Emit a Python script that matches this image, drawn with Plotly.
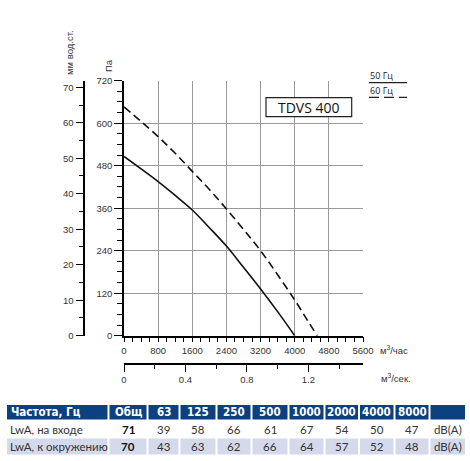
import plotly.graph_objects as go

W, H = 470, 461

# ---- data ----
q50 = [0, 400, 800, 1200, 1600, 2000, 2400, 2800, 3200, 3600, 4000]
p50 = [506, 471, 435, 396, 355, 305, 253, 193, 132, 68, 0]
q60 = [0, 400, 800, 1200, 1600, 2000, 2400, 2800, 3200, 3600, 4000, 4300, 4530]
p60 = [646, 605, 562, 515, 464, 413, 358, 300, 240, 172, 101, 43, 0]

model_name = "TDVS 400"
legend_labels = ["50 Гц", "60 Гц"]

tbl_header = ["Частота, Гц", "Общ", "63", "125", "250", "500", "1000", "2000", "4000", "8000", ""]
tbl_row_names = ["LwA, на входе", "LwA, к окружению"]
tbl_total = [71, 70]
tbl_inlet = [39, 58, 66, 61, 67, 54, 50, 47]
tbl_outlet = [43, 63, 62, 66, 64, 57, 52, 48]
tbl_unit = "dB(A)"

# table layout (pixels)
col_edges = [7, 108.5, 147.5, 179.5, 216.5, 251.5, 288.5, 324.5, 359, 394.5, 429.5, 466]
row_edges = [405, 419.5, 437.5, 454.5]


def px_x(px):
    return px / W


def px_y(py):
    return 1 - py / H


fig = go.Figure()

fig.add_trace(go.Scatter(x=q50, y=p50, mode="lines", line=dict(color="#111", width=1.6, shape="spline"),
                         showlegend=False, hoverinfo="skip"))
fig.add_trace(go.Scatter(x=q60, y=p60, mode="lines",
                         line=dict(color="#111", width=1.6, shape="spline", dash="8px,4.5px"),
                         showlegend=False, hoverinfo="skip"))
# invisible companions so the secondary unit axes are drawn
fig.add_trace(go.Scatter(x=[q / 3600 for q in q50], y=p50, xaxis="x2", yaxis="y", mode="lines",
                         line=dict(color="rgba(0,0,0,0)"), showlegend=False, hoverinfo="skip"))
fig.add_trace(go.Scatter(x=q50, y=[p / 9.80665 for p in p50], xaxis="x", yaxis="y2", mode="lines",
                         line=dict(color="rgba(0,0,0,0)"), showlegend=False, hoverinfo="skip"))

axis_font = dict(family="Liberation Sans, Arial", size=9.5, color="#333")

common = dict(automargin=False, zeroline=False, fixedrange=True, tickfont=axis_font,
              showline=True, linecolor="black", linewidth=1.5, tickcolor="black", tickwidth=1.2,
              ticks="outside")

fig.update_layout(
    template="none",
    width=W, height=H, autosize=False,
    margin=dict(l=0, r=0, t=0, b=0, pad=0, autoexpand=False),
    paper_bgcolor="white", plot_bgcolor="white",
    showlegend=False,
    xaxis=dict(domain=[px_x(124), px_x(363)], range=[0, 5600], dtick=800, tick0=0,
               showgrid=True, gridcolor="#9a9a9a", gridwidth=1.4, ticklen=5,
               minor=dict(dtick=200, ticks="outside", ticklen=5, tickcolor="black", tickwidth=1.2, showgrid=False),
               anchor="y", **common),
    yaxis=dict(domain=[px_y(335.7), px_y(80.7)], range=[0, 720], dtick=120, tick0=0,
               showgrid=True, gridcolor="#9a9a9a", gridwidth=1.4, ticklen=8,
               minor=dict(dtick=30, ticks="outside", ticklen=5, tickcolor="black", tickwidth=1.2, showgrid=False),
               anchor="x", **common),
    yaxis2=dict(overlaying="y", anchor="free", position=px_x(84.3), side="left",
                range=[0, 71.85], dtick=10, tick0=0, showgrid=False, ticklen=8,
                minor=dict(dtick=5, ticks="outside", ticklen=5, tickcolor="black", tickwidth=1.2, showgrid=False),
                **common),
    xaxis2=dict(overlaying="x", anchor="free", position=px_y(364), side="bottom",
                range=[0, 5600 / 3600], dtick=0.4, tick0=0, showgrid=False, ticklen=7,
                minor=dict(dtick=0.2, ticks="outside", ticklen=4, tickcolor="black", tickwidth=1.2, showgrid=False),
                **common),
)

ann = []
shapes = []
ann.append(dict(text="мм вод.ст.", x=px_x(70), y=px_y(53), xref="paper", yref="paper",
                textangle=-90, showarrow=False, font=axis_font, xanchor="center", yanchor="middle"))
ann.append(dict(text="Па", x=px_x(108), y=px_y(66), xref="paper", yref="paper",
                textangle=-90, showarrow=False, font=axis_font, xanchor="center", yanchor="middle"))
ann.append(dict(text="м<sup>3</sup>/час", x=px_x(378), y=px_y(350), xref="paper", yref="paper",
                showarrow=False, font=axis_font, xanchor="left", yanchor="middle"))
ann.append(dict(text="м<sup>3</sup>/сек.", x=px_x(379), y=px_y(378), xref="paper", yref="paper",
                showarrow=False, font=axis_font, xanchor="left", yanchor="middle"))
ann.append(dict(text=model_name, x=px_x(308.5), y=px_y(107.5), xref="paper", yref="paper",
                showarrow=False, font=dict(family="Open Sans, Arial", size=14, color="#111"),
                xanchor="center", yanchor="middle"))
ann.append(dict(text=legend_labels[0], x=px_x(368), y=px_y(76), xref="paper", yref="paper",
                showarrow=False, font=dict(family="Open Sans, Arial", size=9, color="#222"),
                xanchor="left", yanchor="middle"))
ann.append(dict(text=legend_labels[1], x=px_x(368), y=px_y(90.5), xref="paper", yref="paper",
                showarrow=False, font=dict(family="Open Sans, Arial", size=9, color="#222"),
                xanchor="left", yanchor="middle"))

shapes += [
    dict(type="rect", xref="paper", yref="paper", x0=px_x(266), x1=px_x(351.7), y0=px_y(116.7), y1=px_y(97.7),
         line=dict(color="#222", width=1.2), fillcolor="white", layer="above"),
    dict(type="line", xref="paper", yref="paper", x0=px_x(369), x1=px_x(407), y0=px_y(82.7), y1=px_y(82.7),
         line=dict(color="#222", width=1.2)),
    dict(type="line", xref="paper", yref="paper", x0=px_x(369), x1=px_x(407), y0=px_y(97.3), y1=px_y(97.3),
         line=dict(color="#222", width=1.2, dash="10px,5px")),
]

# ---- table built from the arrays ----
hdr_font = dict(family="Liberation Sans Narrow, DejaVu Sans Condensed, Arial", size=11.5, color="white")
body_font = dict(family="Lato, Arial", size=11.5, color="#333")
rows = [
    [tbl_row_names[0], "<b>%d</b>" % tbl_total[0]] + [str(v) for v in tbl_inlet] + [tbl_unit],
    [tbl_row_names[1], "<b>%d</b>" % tbl_total[1]] + [str(v) for v in tbl_outlet] + [tbl_unit],
]
row_fills = ["white", "#d4d9ec"]
ncol = len(tbl_header)
for c in range(ncol):
    x0 = col_edges[c] + (0 if c == 0 else 1)
    x1 = col_edges[c + 1] - 1
    shapes.append(dict(type="rect", xref="paper", yref="paper", x0=px_x(x0), x1=px_x(x1),
                       y0=px_y(row_edges[1]), y1=px_y(row_edges[0]), fillcolor="#0d4080",
                       line=dict(width=0), layer="below"))
    if tbl_header[c]:
        ann.append(dict(text="<b>%s</b>" % tbl_header[c],
                        x=px_x(x0 + 1.5) if c == 0 else px_x((x0 + x1) / 2),
                        xanchor="left" if c == 0 else "center",
                        y=px_y((row_edges[0] + row_edges[1]) / 2), yanchor="middle",
                        xref="paper", yref="paper", showarrow=False, font=hdr_font))
    for r in range(2):
        if row_fills[r] != "white":
            shapes.append(dict(type="rect", xref="paper", yref="paper", x0=px_x(x0), x1=px_x(x1),
                               y0=px_y(row_edges[r + 2]), y1=px_y(row_edges[r + 1] + 1),
                               fillcolor=row_fills[r], line=dict(width=0), layer="below"))
        f = dict(body_font)
        if c == 1:
            f["color"] = "#111"
        ann.append(dict(text=rows[r][c],
                        x=px_x(x0 + 0.5) if c == 0 else px_x((x0 + x1) / 2),
                        xanchor="left" if c == 0 else "center",
                        y=px_y((row_edges[r + 1] + row_edges[r + 2]) / 2 + 0.5), yanchor="middle",
                        xref="paper", yref="paper", showarrow=False, font=f))

fig.update_layout(annotations=ann, shapes=shapes)

fig.write_html("out.html")
